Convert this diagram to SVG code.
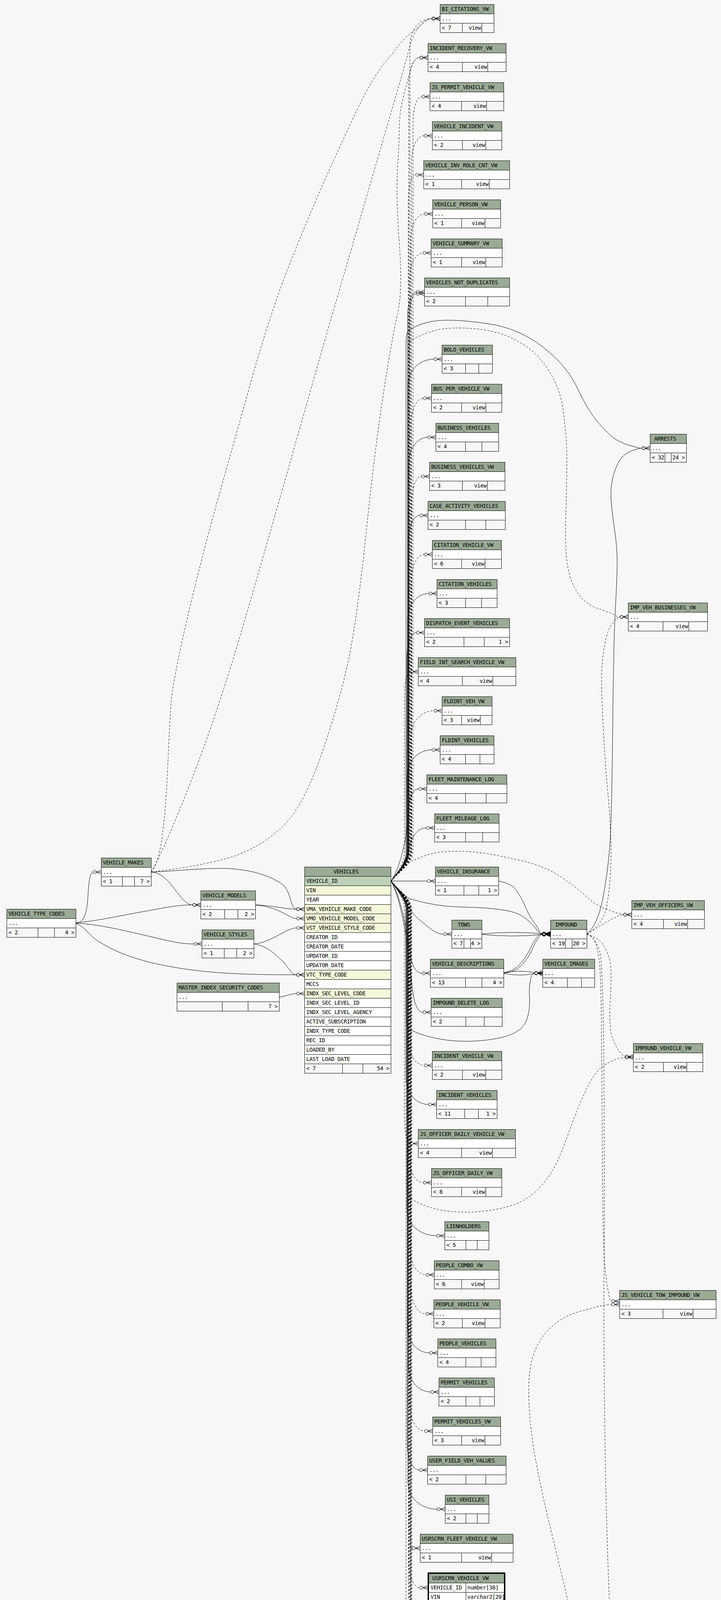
<svg xmlns="http://www.w3.org/2000/svg" width="1847" height="4927" viewBox="0 0 1847 4927">
<defs>
<style>
.hd{fill:#9bab96;stroke:#000}
.rw{fill:#fff;stroke:#000}
.pk{fill:#bed1b8;stroke:#000}
.ix{fill:#f4f7da;stroke:#000}
.ft{fill:none;stroke:#000}
.ln{fill:none;stroke:#000}
.th{fill:none;stroke:#000;stroke-width:3}
text{font-family:"DejaVu Sans Mono","Liberation Mono",monospace;font-size:14px;letter-spacing:-0.43px;fill:#000}
.r{text-anchor:end}
.e{fill:none;stroke:#000;stroke-width:1;marker-end:url(#cf)}
.d{stroke-dasharray:5,4}
</style>
<marker id="cf" markerUnits="userSpaceOnUse" markerWidth="24" markerHeight="14" viewBox="0 -7 24 14" refX="0" refY="0" orient="auto" overflow="visible">
<circle cx="4" cy="0" r="4" fill="none" stroke="#000" stroke-width="1"/>
<path d="M8,0L21,-5M8,0L21,0M8,0L21,5" fill="none" stroke="#000" stroke-width="1"/>
</marker>
</defs>
<rect x="0" y="0" width="1847" height="4927" fill="#f7f7f7"/>
<g id="connectors">
<path class="e d" d="M1002,2255.5C1015,2235 1050,2215 1050,2180L1050,117.5C1050,72.5 1078,47.5 1106.5,47.5"/>
<path class="e d" d="M1002,2255.5C1015,2235 1047,2215 1047,2180L1047,217.5C1047,172.5 1061,147.5 1075.5,147.5"/>
<path class="e d" d="M1002,2255.5C1015,2235 1058,2215 1058,2180L1058,317.5C1058,272.5 1069,247.5 1080.5,247.5"/>
<path class="e d" d="M1002,2255.5C1015,2235 1054,2215 1054,2180L1054,417.5C1054,372.5 1070,347.5 1086.5,347.5"/>
<path class="e d" d="M1002,2255.5C1015,2235 1046,2215 1046,2180L1046,517.5C1046,472.5 1055,447.5 1064.5,447.5"/>
<path class="e d" d="M1002,2255.5C1015,2235 1052,2215 1052,2180L1052,617.5C1052,572.5 1070,547.5 1087.5,547.5"/>
<path class="e d" d="M1002,2255.5C1015,2235 1049,2215 1049,2180L1049,717.5C1049,672.5 1066,647.5 1083.5,647.5"/>
<path class="e" d="M1002,2255.5C1015,2235 1044,2215 1044,2180L1044,817.5C1044,772.5 1055,747.5 1066.5,747.5"/>
<path class="e" d="M1002,2255.5C1015,2235 1048,2215 1048,2180L1048,822C1048,777 1057,752 1066.5,752"/>
<path class="e" d="M1002,2255.5C1015,2235 1045,2215 1045,2180L1045,989.5C1045,944.5 1078,919.5 1111.5,919.5"/>
<path class="e d" d="M1002,2255.5C1015,2235 1053,2215 1053,2180L1053,1089.5C1053,1044.5 1069,1019.5 1084.5,1019.5"/>
<path class="e" d="M1002,2255.5C1015,2235 1047,2215 1047,2180L1047,1189.5C1047,1144.5 1071,1119.5 1095.5,1119.5"/>
<path class="e d" d="M1002,2255.5C1015,2235 1055,2215 1055,2180L1055,1289.5C1055,1244.5 1067,1219.5 1079.5,1219.5"/>
<path class="e" d="M1002,2255.5C1015,2235 1046,2215 1046,2180L1046,1389.5C1046,1344.5 1061,1319.5 1075.5,1319.5"/>
<path class="e d" d="M1002,2255.5C1015,2235 1054,2215 1054,2180L1054,1489.5C1054,1444.5 1070,1419.5 1086.5,1419.5"/>
<path class="e" d="M1002,2255.5C1015,2235 1044,2215 1044,2180L1044,1589.5C1044,1544.5 1071,1519.5 1098.5,1519.5"/>
<path class="e" d="M1002,2255.5C1015,2235 1042,2215 1042,2180L1042,1689.5C1042,1644.5 1054,1619.5 1066.5,1619.5"/>
<path class="e d" d="M1002,2255.5C1015,2235 1036,2215 1036,2180L1036,1789.5C1036,1744.5 1043,1719.5 1050.5,1719.5"/>
<path class="e d" d="M1002,2255.5C1015,2235 1052,2215 1052,2180L1052,1889.5C1052,1844.5 1082,1819.5 1111.5,1819.5"/>
<path class="e" d="M1002,2255.5C1015,2235 1043,2215 1043,2180L1043,1989.5C1043,1944.5 1075,1919.5 1106.5,1919.5"/>
<path class="e" d="M1002,2255.5C1025,2220 1042,2150 1045,2090C1047,2045 1055,2019.5 1072.5,2019.5"/>
<path class="e" d="M1002,2255.5C1020,2235 1038,2210 1045,2180C1052,2150 1065,2119.5 1092.5,2119.5"/>
<path class="e" d="M1002,2255.5L1094.5,2255.5"/>
<path class="e" d="M1002,2255.5C1035,2300 1050,2335 1075,2355C1100,2375 1115,2391.5 1136.5,2391.5"/>
<path class="e" d="M1002,2255.5C1030,2300 1045,2400 1052,2450C1058,2478 1068,2491.5 1081.5,2491.5"/>
<path class="e" d="M1002,2255.5C1035,2320 1048,2450 1055,2520C1060,2570 1070,2591.5 1083.5,2591.5"/>
<path class="e d" d="M1002,2255.5C1015,2276 1046,2296 1046,2331L1046,2657.5C1046,2702.5 1066,2727.5 1086.5,2727.5"/>
<path class="e" d="M1002,2255.5C1015,2276 1040,2296 1040,2331L1040,2757.5C1040,2802.5 1069,2827.5 1097.5,2827.5"/>
<path class="e d" d="M1002,2255.5C1015,2276 1036,2296 1036,2331L1036,2857.5C1036,2902.5 1043,2927.5 1050.5,2927.5"/>
<path class="e d" d="M1002,2255.5C1015,2276 1048,2296 1048,2331L1048,2957.5C1048,3002.5 1066,3027.5 1084.5,3027.5"/>
<path class="e" d="M1002,2255.5C1015,2276 1042,2296 1042,2331L1042,3093.5C1042,3138.5 1080,3163.5 1118.5,3163.5"/>
<path class="e d" d="M1002,2255.5C1015,2276 1050,2296 1050,2331L1050,3193.5C1050,3238.5 1071,3263.5 1091.5,3263.5"/>
<path class="e d" d="M1002,2255.5C1015,2276 1053,2296 1053,2331L1053,3293.5C1053,3338.5 1072,3363.5 1090.5,3363.5"/>
<path class="e" d="M1002,2255.5C1015,2276 1044,2296 1044,2331L1044,3393.5C1044,3438.5 1072,3463.5 1100.5,3463.5"/>
<path class="e" d="M1002,2255.5C1015,2276 1046,2296 1046,2331L1046,3493.5C1046,3538.5 1075,3563.5 1103.5,3563.5"/>
<path class="e d" d="M1002,2255.5C1015,2276 1050,2296 1050,2331L1050,3593.5C1050,3638.5 1069,3663.5 1087.5,3663.5"/>
<path class="e" d="M1002,2255.5C1015,2276 1043,2296 1043,2331L1043,3693.5C1043,3738.5 1059,3763.5 1074.5,3763.5"/>
<path class="e" d="M1002,2255.5C1015,2276 1045,2296 1045,2331L1045,3793.5C1045,3838.5 1082,3863.5 1119.5,3863.5"/>
<path class="e d" d="M1002,2255.5C1015,2276 1049,2296 1049,2331L1049,3893.5C1049,3938.5 1052,3963.5 1055.5,3963.5"/>
<path class="e d" d="M1002,2255.5C1015,2276 1047,2296 1047,2331L1047,3994.5C1047,4039.5 1061,4064.5 1075,4064.5"/>
<path class="e d" d="M1002,2255.5C1015,2276 1048,2296 1048,2331L1048,4194.5C1048,4239.5 1061,4264.5 1074.5,4264.5"/>
<path class="e" d="M1002,2255.5C1015,2276 1052,2296 1052,2331L1052,4294.5C1052,4339.5 1067,4364.5 1082.5,4364.5"/>
<path class="e d" d="M1002,2255.5C1015,2276 1053,2296 1053,2331L1053,4394.5C1053,4439.5 1064,4464.5 1074.5,4464.5"/>
<path class="e d" d="M1002,2255.5C1015,2276 1055,2296 1055,2331L1055,4494.5C1055,4539.5 1077,4564.5 1098.5,4564.5"/>
<path class="e d" d="M1002,2255.5C1015,2276 1052,2296 1052,2331L1052,4594.5C1052,4639.5 1061,4664.5 1070.5,4664.5"/>
<path class="e d" d="M1002,2255.5C1015,2276 1040,2296 1040,2331L1040,4766.5C1040,4811.5 1043,4836.5 1046.5,4836.5"/>
<path class="e" d="M1002,2255.5C1015,2235 1040,2215 1040,2180L1040,880C1040,860 1042,848 1050,844Q1081,824 1125,820.5Q1169,817 1249,828.5Q1329,840 1391,888.5Q1453,937 1479,993.5Q1505,1050 1533.5,1083Q1562,1116 1580,1126.5Q1598,1137 1620,1142C1630,1145 1635,1147.5 1644.5,1147.5"/>
<path class="e d" d="M1002,2255.5C1015,2235 1046,2215 1046,2180L1046,900C1046,885 1048,874 1053,870.5Q1092,850.5 1123,844Q1154,837 1211,841Q1267,845 1309,864.5Q1350,884 1376,910.5Q1402,937.5 1420,974Q1438,1011 1443,1052.5Q1448,1094 1450.5,1127Q1453,1160 1451.5,1230Q1450,1300 1449,1340Q1448,1380 1450,1413Q1452,1446 1460,1475Q1469,1505 1487,1527Q1505,1549 1531,1557.5Q1557,1566 1572,1573C1578,1577 1582,1579.5 1588.5,1579.5"/>
<path class="e d" d="M1002,2255.5C1020,2240 1035,2220 1050,2207Q1100,2182 1143,2180Q1195,2177 1246,2185Q1298,2194 1350,2207Q1402,2220.5 1440,2247Q1479,2274 1505,2297.5Q1531,2321 1557,2329Q1582,2338 1590,2340C1593,2341 1595,2341.5 1597.5,2341.5"/>
<path class="e" d="M1002,2255.5C1020,2275 1035,2292 1050,2301Q1117,2321 1182,2322Q1247,2323 1285,2329Q1324,2334 1342,2348Q1360,2361 1372,2376C1378,2386 1383,2391.5 1389.5,2391.5"/>
<path class="e" d="M1002,2255.5C1015,2277 1040,2297 1040,2332L1040,2600C1040,2620 1044,2632 1050,2636Q1092,2656 1143,2662.5Q1195,2669 1247,2662.5Q1298,2656 1321,2642.5Q1345,2629 1351,2605.5Q1358,2582 1356.5,2555Q1355,2529 1358,2515C1360,2497 1364,2491.5 1369.5,2491.5"/>
<path class="e d" d="M1002,2255.5C1015,2277 1044,2297 1044,2332L1044,3040C1044,3060 1050,3068 1056,3071Q1092,3091 1130,3098Q1169,3104.5 1208,3103Q1247,3101 1285,3093Q1324,3084 1350,3067.5Q1376,3051 1401.5,3017.5Q1427,2984 1453,2910Q1479,2837 1500,2793Q1520,2750 1538.5,2734.5Q1557,2719 1575,2713C1585,2709 1592,2707.5 1601.5,2707.5"/>
<path class="e d" d="M1002,2255.5C1015,2277 1050,2297 1050,2332L1050,4707Q1071,4721 1107,4733Q1143,4744.6 1208,4740Q1272.5,4735 1306,4723Q1340,4712 1391.5,4650.5Q1443,4589.5 1463.5,4507Q1484,4425 1484,4343Q1484,4260.5 1479,4225Q1474,4190 1463.5,4139Q1453,4087.5 1412,3920Q1371,3753 1360.5,3659Q1350,3565 1357.5,3508Q1365,3451 1399,3411Q1433,3371 1490,3356C1530,3345 1550,3339.5 1566.5,3339.5"/>
<path class="e d" d="M1002,2255.5C1015,2277 1046,2297 1046,2332L1046,4700C1046,4718 1048,4726 1050,4730.5Q1066,4754 1092,4764.5Q1117.5,4775 1156,4775Q1195,4775 1234,4769Q1272.5,4763.5 1337,4747Q1401.6,4730.5 1463.6,4700Q1525.6,4669.5 1541,4653Q1556.6,4636.5 1567,4582Q1577,4528 1585,4513C1590,4504 1595,4501.5 1601.5,4501.5"/>
<path class="e" d="M1503.5,2391.5Q1531,2368 1544,2301Q1557,2234 1562,2167Q1567,2100 1569.5,1868.5Q1572,1637 1576.5,1556Q1581,1475 1581,1437.5Q1581,1400 1573.5,1350Q1566,1300 1565,1270.5Q1564,1241 1573,1211.5Q1582,1182 1595,1169Q1608,1156 1626,1151.5C1635,1148.5 1638,1147.5 1644.5,1147.5"/>
<path class="e d" d="M1503.5,2391.5Q1530,2375 1543,2352.5Q1556,2330 1561.5,2265Q1567,2200 1564.5,2138.5Q1562,2077 1556.5,2022Q1551,1967 1546,1875Q1541,1783 1541,1739Q1541,1695 1549,1651Q1557,1607 1570,1595C1577,1585 1582,1579.5 1588.5,1579.5"/>
<path class="e d" d="M1503.5,2391.5C1530,2375 1560,2355 1580,2347C1588,2343 1592,2341.5 1597.5,2341.5"/>
<path class="e d" d="M1503.5,2391.5Q1536,2401 1549,2424.5Q1562,2448 1564.5,2475Q1567,2502 1563,2569Q1559,2636 1571,2662.5Q1582,2689 1592,2697C1596,2702 1598,2704.5 1601.5,2704.5"/>
<path class="e d" d="M1503.5,2391.5Q1520,2395 1528,2421.5Q1536,2448 1538.5,2508.5Q1541,2569 1542.5,2859.5Q1544,3150 1547.5,3210Q1551,3270 1558,3305C1561,3323 1563,3331 1566.5,3331"/>
<path class="e d" d="M1503.5,2391.5Q1526,2401 1536,2434.5Q1546,2468 1547.5,2809Q1549,3150 1547.5,3250.5Q1546,3351 1548.5,3585Q1551,3820 1557.5,4005Q1564,4190 1568,4249Q1572,4307.5 1580,4354.5Q1588,4401.5 1594,4440C1597,4475 1598,4493 1601.5,4493"/>
<path class="e" d="M1277.5,2255.5Q1309,2261 1321.5,2277.5Q1334,2294 1347,2324Q1360,2354 1375.5,2371C1382,2385 1384,2389.5 1389.5,2389.5"/>
<path class="e" d="M1234.5,2391Q1310,2383 1389.5,2390.5"/>
<path class="e" d="M1234.5,2392Q1310,2400 1389.5,2392.5"/>
<path class="e" d="M1290.5,2490C1320,2485 1335,2470 1355,2435C1370,2405 1378,2391 1389.5,2391"/>
<path class="e" d="M1290.5,2491C1325,2488 1340,2472 1360,2438C1373,2410 1380,2393 1389.5,2393"/>
<path class="e" d="M1290.5,2490.5Q1330,2482 1369.5,2490"/>
<path class="e" d="M1290.5,2492Q1330,2500 1369.5,2492.5"/>
<path class="e" d="M194.5,2363.5C212,2362 222,2345 225,2300C227,2260 230,2232.5 238.5,2232.5"/>
<path class="e" d="M194.5,2362.5C260,2356 300,2345 388,2330C430,2322 460,2316.5 493.5,2316.5"/>
<path class="e" d="M194.5,2363.5C250,2366 300,2378 387,2398C430,2408 460,2416.5 496.5,2416.5"/>
<path class="e" d="M194.5,2364C220,2375 230,2395 245,2405C290,2435 330,2450 390,2465C500,2490 600,2495.5 759.5,2495.5"/>
<path class="e" d="M387.5,2232.5C410,2234 430,2250 450,2280C470,2305 480,2316.5 493.5,2316.5"/>
<path class="e" d="M387.5,2232.5C450,2230 520,2222 577,2223C650,2226 700,2245 727,2267C745,2285 745,2327.5 759.5,2327.5"/>
<path class="e" d="M654.5,2316.5C700,2318 730,2327.5 759.5,2327.5"/>
<path class="e" d="M654.5,2317C700,2320 730,2340 745,2347C750,2350 754,2351.5 759.5,2351.5"/>
<path class="e" d="M650.5,2416.5C680,2414 700,2400 727,2387C740,2380 748,2375.5 759.5,2375.5"/>
<path class="e" d="M650.5,2416.5C690,2422 710,2450 727,2463C740,2480 748,2495.5 759.5,2495.5"/>
<path class="e" d="M715.5,2552.5C735,2550 745,2543.5 759.5,2543.5"/>
<path class="e d" d="M387.5,2232.5Q407,2209 416,2137.5Q425,2066 429.5,1965.5Q434,1865 437.5,1807.5Q441,1750 477.5,1592.5Q514,1435 558.5,1277Q603,1119 647.5,961Q692.5,803 737,688.5Q782,574 826.5,473.5Q871,373 915.5,279.5Q960,186 1003,140Q1037,92 1067,74C1085,60 1095,47.5 1106.5,47.5"/>
<path class="e d" d="M387.5,2232.5Q424.6,2166 491.5,1994Q558.6,1822 625.5,1592.5Q692.5,1363 759.5,1126Q826.4,889.5 893.5,660Q960.4,430.4 998,301Q1036,172 1045,136Q1054,100 1062,86C1075,62 1090,48 1106.5,48"/>
<path class="e d" d="M387.5,2232.5Q557,2212 625,2182Q692.5,2152 737,2102Q782,2052 826.5,1922.5Q871,1793 893.5,1685.5Q915.7,1578 938,1363Q960.4,1148 982.5,1004.5Q1005,861 1018.5,803.5Q1031.8,746 1023,624Q1014,502 1018.5,430.5Q1022.8,359 1023,326Q1023,293 1031.5,256.5Q1040,220 1048.5,191.5C1055,165 1062,147.5 1075.5,147.5"/>
</g>
<g id="BI_CITATIONS_VW"><rect class="hd" x="1127.5" y="11.5" width="138" height="24"/><rect class="rw" x="1127.5" y="35.5" width="138" height="24"/><rect class="ft" x="1127.5" y="59.5" width="138" height="24"/><path class="ln" d="M1184.5,59.5v24M1234.5,59.5v24"/><text x="1131.5" y="28">BI_CITATIONS_VW</text><text x="1131.5" y="52">...</text><text x="1131.5" y="76">&lt; 7</text><text class="r" x="1232.5" y="76">view</text></g>
<g id="INCIDENT_RECOVERY_VW"><rect class="hd" x="1096.5" y="111.5" width="200" height="24"/><rect class="rw" x="1096.5" y="135.5" width="200" height="24"/><rect class="ft" x="1096.5" y="159.5" width="200" height="24"/><path class="ln" d="M1184.5,159.5v24M1249.5,159.5v24"/><text x="1100.5" y="128">INCIDENT_RECOVERY_VW</text><text x="1100.5" y="152">...</text><text x="1100.5" y="176">&lt; 4</text><text class="r" x="1247.5" y="176">view</text></g>
<g id="JS_PERMIT_VEHICLE_VW"><rect class="hd" x="1101.5" y="211.5" width="189" height="24"/><rect class="rw" x="1101.5" y="235.5" width="189" height="24"/><rect class="ft" x="1101.5" y="259.5" width="189" height="24"/><path class="ln" d="M1182.5,259.5v24M1246.5,259.5v24"/><text x="1105.5" y="228">JS_PERMIT_VEHICLE_VW</text><text x="1105.5" y="252">...</text><text x="1105.5" y="276">&lt; 4</text><text class="r" x="1244.5" y="276">view</text></g>
<g id="VEHICLE_INCIDENT_VW"><rect class="hd" x="1107.5" y="311.5" width="178" height="24"/><rect class="rw" x="1107.5" y="335.5" width="178" height="24"/><rect class="ft" x="1107.5" y="359.5" width="178" height="24"/><path class="ln" d="M1184.5,359.5v24M1244.5,359.5v24"/><text x="1111.5" y="328">VEHICLE_INCIDENT_VW</text><text x="1111.5" y="352">...</text><text x="1111.5" y="376">&lt; 2</text><text class="r" x="1242.5" y="376">view</text></g>
<g id="VEHICLE_INV_ROLE_CNT_VW"><rect class="hd" x="1085.5" y="411.5" width="220" height="24"/><rect class="rw" x="1085.5" y="435.5" width="220" height="24"/><rect class="ft" x="1085.5" y="459.5" width="220" height="24"/><path class="ln" d="M1182.5,459.5v24M1253.5,459.5v24"/><text x="1089.5" y="428">VEHICLE_INV_ROLE_CNT_VW</text><text x="1089.5" y="452">...</text><text x="1089.5" y="476">&lt; 1</text><text class="r" x="1251.5" y="476">view</text></g>
<g id="VEHICLE_PERSON_VW"><rect class="hd" x="1108.5" y="511.5" width="174" height="24"/><rect class="rw" x="1108.5" y="535.5" width="174" height="24"/><rect class="ft" x="1108.5" y="559.5" width="174" height="24"/><path class="ln" d="M1182.5,559.5v24M1242.5,559.5v24"/><text x="1112.5" y="528">VEHICLE_PERSON_VW</text><text x="1112.5" y="552">...</text><text x="1112.5" y="576">&lt; 1</text><text class="r" x="1240.5" y="576">view</text></g>
<g id="VEHICLE_SUMMARY_VW"><rect class="hd" x="1104.5" y="611.5" width="182" height="24"/><rect class="rw" x="1104.5" y="635.5" width="182" height="24"/><rect class="ft" x="1104.5" y="659.5" width="182" height="24"/><path class="ln" d="M1182.5,659.5v24M1244.5,659.5v24"/><text x="1108.5" y="628">VEHICLE_SUMMARY_VW</text><text x="1108.5" y="652">...</text><text x="1108.5" y="676">&lt; 1</text><text class="r" x="1242.5" y="676">view</text></g>
<g id="VEHICLES_NOT_DUPLICATES"><rect class="hd" x="1087.5" y="711.5" width="218" height="24"/><rect class="rw" x="1087.5" y="735.5" width="218" height="24"/><rect class="ft" x="1087.5" y="759.5" width="218" height="24"/><path class="ln" d="M1192.5,759.5v24M1249.5,759.5v24"/><text x="1091.5" y="728">VEHICLES_NOT_DUPLICATES</text><text x="1091.5" y="752">...</text><text x="1091.5" y="776">&lt; 2</text></g>
<g id="BOLO_VEHICLES"><rect class="hd" x="1132.5" y="883.5" width="129" height="24"/><rect class="rw" x="1132.5" y="907.5" width="129" height="24"/><rect class="ft" x="1132.5" y="931.5" width="129" height="24"/><path class="ln" d="M1192.5,931.5v24M1226.5,931.5v24"/><text x="1136.5" y="900">BOLO_VEHICLES</text><text x="1136.5" y="924">...</text><text x="1136.5" y="948">&lt; 3</text></g>
<g id="BUS_PER_VEHICLE_VW"><rect class="hd" x="1105.5" y="983.5" width="180" height="24"/><rect class="rw" x="1105.5" y="1007.5" width="180" height="24"/><rect class="ft" x="1105.5" y="1031.5" width="180" height="24"/><path class="ln" d="M1182.5,1031.5v24M1244.5,1031.5v24"/><text x="1109.5" y="1000">BUS_PER_VEHICLE_VW</text><text x="1109.5" y="1024">...</text><text x="1109.5" y="1048">&lt; 2</text><text class="r" x="1242.5" y="1048">view</text></g>
<g id="BUSINESS_VEHICLES"><rect class="hd" x="1116.5" y="1083.5" width="161" height="24"/><rect class="rw" x="1116.5" y="1107.5" width="161" height="24"/><rect class="ft" x="1116.5" y="1131.5" width="161" height="24"/><path class="ln" d="M1192.5,1131.5v24M1234.5,1131.5v24"/><text x="1120.5" y="1100">BUSINESS_VEHICLES</text><text x="1120.5" y="1124">...</text><text x="1120.5" y="1148">&lt; 4</text></g>
<g id="BUSINESS_VEHICLES_VW"><rect class="hd" x="1100.5" y="1183.5" width="193" height="24"/><rect class="rw" x="1100.5" y="1207.5" width="193" height="24"/><rect class="ft" x="1100.5" y="1231.5" width="193" height="24"/><path class="ln" d="M1184.5,1231.5v24M1248.5,1231.5v24"/><text x="1104.5" y="1200">BUSINESS_VEHICLES_VW</text><text x="1104.5" y="1224">...</text><text x="1104.5" y="1248">&lt; 3</text><text class="r" x="1246.5" y="1248">view</text></g>
<g id="CASE_ACTIVITY_VEHICLES"><rect class="hd" x="1096.5" y="1283.5" width="198" height="24"/><rect class="rw" x="1096.5" y="1307.5" width="198" height="24"/><rect class="ft" x="1096.5" y="1331.5" width="198" height="24"/><path class="ln" d="M1192.5,1331.5v24M1244.5,1331.5v24"/><text x="1100.5" y="1300">CASE_ACTIVITY_VEHICLES</text><text x="1100.5" y="1324">...</text><text x="1100.5" y="1348">&lt; 2</text></g>
<g id="CITATION_VEHICLE_VW"><rect class="hd" x="1107.5" y="1383.5" width="177" height="24"/><rect class="rw" x="1107.5" y="1407.5" width="177" height="24"/><rect class="ft" x="1107.5" y="1431.5" width="177" height="24"/><path class="ln" d="M1182.5,1431.5v24M1242.5,1431.5v24"/><text x="1111.5" y="1400">CITATION_VEHICLE_VW</text><text x="1111.5" y="1424">...</text><text x="1111.5" y="1448">&lt; 6</text><text class="r" x="1240.5" y="1448">view</text></g>
<g id="CITATION_VEHICLES"><rect class="hd" x="1119.5" y="1483.5" width="154" height="24"/><rect class="rw" x="1119.5" y="1507.5" width="154" height="24"/><rect class="ft" x="1119.5" y="1531.5" width="154" height="24"/><path class="ln" d="M1192.5,1531.5v24M1233.5,1531.5v24"/><text x="1123.5" y="1500">CITATION_VEHICLES</text><text x="1123.5" y="1524">...</text><text x="1123.5" y="1548">&lt; 3</text></g>
<g id="DISPATCH_EVENT_VEHICLES"><rect class="hd" x="1087.5" y="1583.5" width="218" height="24"/><rect class="rw" x="1087.5" y="1607.5" width="218" height="24"/><rect class="ft" x="1087.5" y="1631.5" width="218" height="24"/><path class="ln" d="M1188.5,1631.5v24M1240.5,1631.5v24"/><text x="1091.5" y="1600">DISPATCH_EVENT_VEHICLES</text><text x="1091.5" y="1624">...</text><text x="1091.5" y="1648">&lt; 2</text><text class="r" x="1301.5" y="1648">1 &gt;</text></g>
<g id="FIELD_INT_SEARCH_VEHICLE_VW"><rect class="hd" x="1071.5" y="1683.5" width="250" height="24"/><rect class="rw" x="1071.5" y="1707.5" width="250" height="24"/><rect class="ft" x="1071.5" y="1731.5" width="250" height="24"/><path class="ln" d="M1184.5,1731.5v24M1262.5,1731.5v24"/><text x="1075.5" y="1700">FIELD_INT_SEARCH_VEHICLE_VW</text><text x="1075.5" y="1724">...</text><text x="1075.5" y="1748">&lt; 4</text><text class="r" x="1260.5" y="1748">view</text></g>
<g id="FLDINT_VEH_VW"><rect class="hd" x="1132.5" y="1783.5" width="128" height="24"/><rect class="rw" x="1132.5" y="1807.5" width="128" height="24"/><rect class="ft" x="1132.5" y="1831.5" width="128" height="24"/><path class="ln" d="M1182.5,1831.5v24M1230.5,1831.5v24"/><text x="1136.5" y="1800">FLDINT_VEH_VW</text><text x="1136.5" y="1824">...</text><text x="1136.5" y="1848">&lt; 3</text><text class="r" x="1228.5" y="1848">view</text></g>
<g id="FLDINT_VEHICLES"><rect class="hd" x="1127.5" y="1883.5" width="138" height="24"/><rect class="rw" x="1127.5" y="1907.5" width="138" height="24"/><rect class="ft" x="1127.5" y="1931.5" width="138" height="24"/><path class="ln" d="M1192.5,1931.5v24M1229.5,1931.5v24"/><text x="1131.5" y="1900">FLDINT_VEHICLES</text><text x="1131.5" y="1924">...</text><text x="1131.5" y="1948">&lt; 4</text></g>
<g id="FLEET_MAINTENANCE_LOG"><rect class="hd" x="1093.5" y="1983.5" width="205" height="24"/><rect class="rw" x="1093.5" y="2007.5" width="205" height="24"/><rect class="ft" x="1093.5" y="2031.5" width="205" height="24"/><path class="ln" d="M1192.5,2031.5v24M1245.5,2031.5v24"/><text x="1097.5" y="2000">FLEET_MAINTENANCE_LOG</text><text x="1097.5" y="2024">...</text><text x="1097.5" y="2048">&lt; 4</text></g>
<g id="FLEET_MILEAGE_LOG"><rect class="hd" x="1113.5" y="2083.5" width="165" height="24"/><rect class="rw" x="1113.5" y="2107.5" width="165" height="24"/><rect class="ft" x="1113.5" y="2131.5" width="165" height="24"/><path class="ln" d="M1192.5,2131.5v24M1236.5,2131.5v24"/><text x="1117.5" y="2100">FLEET_MILEAGE_LOG</text><text x="1117.5" y="2124">...</text><text x="1117.5" y="2148">&lt; 3</text></g>
<g id="VEHICLE_INSURANCE"><rect class="hd" x="1115.5" y="2219.5" width="162" height="24"/><rect class="rw" x="1115.5" y="2243.5" width="162" height="24"/><rect class="ft" x="1115.5" y="2267.5" width="162" height="24"/><path class="ln" d="M1188.5,2267.5v24M1226.5,2267.5v24"/><text x="1119.5" y="2236">VEHICLE_INSURANCE</text><text x="1119.5" y="2260">...</text><text x="1119.5" y="2284">&lt; 1</text><text class="r" x="1273.5" y="2284">1 &gt;</text></g>
<g id="TOWS"><rect class="hd" x="1157.5" y="2355.5" width="77" height="24"/><rect class="rw" x="1157.5" y="2379.5" width="77" height="24"/><rect class="ft" x="1157.5" y="2403.5" width="77" height="24"/><path class="ln" d="M1188.5,2403.5v24M1205.5,2403.5v24"/><text x="1172.5" y="2372">TOWS</text><text x="1161.5" y="2396">...</text><text x="1161.5" y="2420">&lt; 7</text><text class="r" x="1230.5" y="2420">4 &gt;</text></g>
<g id="VEHICLE_DESCRIPTIONS"><rect class="hd" x="1102.5" y="2455.5" width="188" height="24"/><rect class="rw" x="1102.5" y="2479.5" width="188" height="24"/><rect class="ft" x="1102.5" y="2503.5" width="188" height="24"/><path class="ln" d="M1192.5,2503.5v24M1234.5,2503.5v24"/><text x="1106.5" y="2472">VEHICLE_DESCRIPTIONS</text><text x="1106.5" y="2496">...</text><text x="1106.5" y="2520">&lt; 13</text><text class="r" x="1286.5" y="2520">4 &gt;</text></g>
<g id="IMPOUND_DELETE_LOG"><rect class="hd" x="1104.5" y="2555.5" width="182" height="24"/><rect class="rw" x="1104.5" y="2579.5" width="182" height="24"/><rect class="ft" x="1104.5" y="2603.5" width="182" height="24"/><path class="ln" d="M1193.5,2603.5v24M1240.5,2603.5v24"/><text x="1108.5" y="2572">IMPOUND_DELETE_LOG</text><text x="1108.5" y="2596">...</text><text x="1108.5" y="2620">&lt; 2</text></g>
<g id="INCIDENT_VEHICLE_VW"><rect class="hd" x="1107.5" y="2691.5" width="178" height="24"/><rect class="rw" x="1107.5" y="2715.5" width="178" height="24"/><rect class="ft" x="1107.5" y="2739.5" width="178" height="24"/><path class="ln" d="M1184.5,2739.5v24M1244.5,2739.5v24"/><text x="1111.5" y="2708">INCIDENT_VEHICLE_VW</text><text x="1111.5" y="2732">...</text><text x="1111.5" y="2756">&lt; 2</text><text class="r" x="1242.5" y="2756">view</text></g>
<g id="INCIDENT_VEHICLES"><rect class="hd" x="1118.5" y="2791.5" width="155" height="24"/><rect class="rw" x="1118.5" y="2815.5" width="155" height="24"/><rect class="ft" x="1118.5" y="2839.5" width="155" height="24"/><path class="ln" d="M1190.5,2839.5v24M1225.5,2839.5v24"/><text x="1122.5" y="2808">INCIDENT_VEHICLES</text><text x="1122.5" y="2832">...</text><text x="1122.5" y="2856">&lt; 11</text><text class="r" x="1269.5" y="2856">1 &gt;</text></g>
<g id="JS_OFFICER_DAILY_VEHICLE_VW"><rect class="hd" x="1071.5" y="2891.5" width="249" height="24"/><rect class="rw" x="1071.5" y="2915.5" width="249" height="24"/><rect class="ft" x="1071.5" y="2939.5" width="249" height="24"/><path class="ln" d="M1182.5,2939.5v24M1261.5,2939.5v24"/><text x="1075.5" y="2908">JS_OFFICER_DAILY_VEHICLE_VW</text><text x="1075.5" y="2932">...</text><text x="1075.5" y="2956">&lt; 4</text><text class="r" x="1259.5" y="2956">view</text></g>
<g id="JS_OFFICER_DAILY_VW"><rect class="hd" x="1105.5" y="2991.5" width="180" height="24"/><rect class="rw" x="1105.5" y="3015.5" width="180" height="24"/><rect class="ft" x="1105.5" y="3039.5" width="180" height="24"/><path class="ln" d="M1182.5,3039.5v24M1244.5,3039.5v24"/><text x="1109.5" y="3008">JS_OFFICER_DAILY_VW</text><text x="1109.5" y="3032">...</text><text x="1109.5" y="3056">&lt; 8</text><text class="r" x="1242.5" y="3056">view</text></g>
<g id="LIENHOLDERS"><rect class="hd" x="1139.5" y="3127.5" width="113" height="24"/><rect class="rw" x="1139.5" y="3151.5" width="113" height="24"/><rect class="ft" x="1139.5" y="3175.5" width="113" height="24"/><path class="ln" d="M1193.5,3175.5v24M1222.5,3175.5v24"/><text x="1143.5" y="3144">LIENHOLDERS</text><text x="1143.5" y="3168">...</text><text x="1143.5" y="3192">&lt; 5</text></g>
<g id="PEOPLE_COMBO_VW"><rect class="hd" x="1112.5" y="3227.5" width="166" height="24"/><rect class="rw" x="1112.5" y="3251.5" width="166" height="24"/><rect class="ft" x="1112.5" y="3275.5" width="166" height="24"/><path class="ln" d="M1182.5,3275.5v24M1240.5,3275.5v24"/><text x="1116.5" y="3244">PEOPLE_COMBO_VW</text><text x="1116.5" y="3268">...</text><text x="1116.5" y="3292">&lt; 6</text><text class="r" x="1238.5" y="3292">view</text></g>
<g id="PEOPLE_VEHICLE_VW"><rect class="hd" x="1111.5" y="3327.5" width="170" height="24"/><rect class="rw" x="1111.5" y="3351.5" width="170" height="24"/><rect class="ft" x="1111.5" y="3375.5" width="170" height="24"/><path class="ln" d="M1184.5,3375.5v24M1242.5,3375.5v24"/><text x="1115.5" y="3344">PEOPLE_VEHICLE_VW</text><text x="1115.5" y="3368">...</text><text x="1115.5" y="3392">&lt; 2</text><text class="r" x="1240.5" y="3392">view</text></g>
<g id="PEOPLE_VEHICLES"><rect class="hd" x="1121.5" y="3427.5" width="149" height="24"/><rect class="rw" x="1121.5" y="3451.5" width="149" height="24"/><rect class="ft" x="1121.5" y="3475.5" width="149" height="24"/><path class="ln" d="M1193.5,3475.5v24M1232.5,3475.5v24"/><text x="1125.5" y="3444">PEOPLE_VEHICLES</text><text x="1125.5" y="3468">...</text><text x="1125.5" y="3492">&lt; 4</text></g>
<g id="PERMIT_VEHICLES"><rect class="hd" x="1124.5" y="3527.5" width="142" height="24"/><rect class="rw" x="1124.5" y="3551.5" width="142" height="24"/><rect class="ft" x="1124.5" y="3575.5" width="142" height="24"/><path class="ln" d="M1193.5,3575.5v24M1229.5,3575.5v24"/><text x="1128.5" y="3544">PERMIT_VEHICLES</text><text x="1128.5" y="3568">...</text><text x="1128.5" y="3592">&lt; 2</text></g>
<g id="PERMIT_VEHICLES_VW"><rect class="hd" x="1108.5" y="3627.5" width="174" height="24"/><rect class="rw" x="1108.5" y="3651.5" width="174" height="24"/><rect class="ft" x="1108.5" y="3675.5" width="174" height="24"/><path class="ln" d="M1182.5,3675.5v24M1242.5,3675.5v24"/><text x="1112.5" y="3644">PERMIT_VEHICLES_VW</text><text x="1112.5" y="3668">...</text><text x="1112.5" y="3692">&lt; 3</text><text class="r" x="1240.5" y="3692">view</text></g>
<g id="USER_FIELD_VEH_VALUES"><rect class="hd" x="1095.5" y="3727.5" width="201" height="24"/><rect class="rw" x="1095.5" y="3751.5" width="201" height="24"/><rect class="ft" x="1095.5" y="3775.5" width="201" height="24"/><path class="ln" d="M1193.5,3775.5v24M1244.5,3775.5v24"/><text x="1099.5" y="3744">USER_FIELD_VEH_VALUES</text><text x="1099.5" y="3768">...</text><text x="1099.5" y="3792">&lt; 2</text></g>
<g id="USI_VEHICLES"><rect class="hd" x="1140.5" y="3827.5" width="112" height="24"/><rect class="rw" x="1140.5" y="3851.5" width="112" height="24"/><rect class="ft" x="1140.5" y="3875.5" width="112" height="24"/><path class="ln" d="M1193.5,3875.5v24M1222.5,3875.5v24"/><text x="1144.5" y="3844">USI_VEHICLES</text><text x="1144.5" y="3868">...</text><text x="1144.5" y="3892">&lt; 2</text></g>
<g id="USRSCRN_FLEET_VEHICLE_VW"><rect class="hd" x="1076.5" y="3927.5" width="238" height="24"/><rect class="rw" x="1076.5" y="3951.5" width="238" height="24"/><rect class="ft" x="1076.5" y="3975.5" width="238" height="24"/><path class="ln" d="M1182.5,3975.5v24M1259.5,3975.5v24"/><text x="1080.5" y="3944">USRSCRN_FLEET_VEHICLE_VW</text><text x="1080.5" y="3968">...</text><text x="1080.5" y="3992">&lt; 1</text><text class="r" x="1257.5" y="3992">view</text></g>
<g id="USRSCRN_VEHICLE_VW"><rect class="hd" x="1098.5" y="4028.5" width="193" height="24"/><rect class="rw" x="1098.5" y="4052.5" width="193" height="24"/><rect class="rw" x="1098.5" y="4076.5" width="193" height="24"/><rect class="rw" x="1098.5" y="4100.5" width="193" height="24"/><rect class="rw" x="1098.5" y="4124.5" width="193" height="24"/><rect class="rw" x="1098.5" y="4148.5" width="193" height="24"/><rect class="ft" x="1098.5" y="4172.5" width="193" height="24"/><path class="ln" d="M1193.5,4052.5v144M1141.5,4172.5v24"/><rect class="th" x="1097" y="4027" width="196" height="171"/><text x="1107.5" y="4045">USRSCRN_VEHICLE_VW</text><text x="1103" y="4069">VEHICLE_ID</text><text x="1197" y="4069">number[38]</text><text x="1103" y="4093">VIN</text><text x="1197" y="4093">varchar2[20]</text><text x="1103" y="4117">YEAR</text><text x="1197" y="4117">number[38]</text><text x="1103" y="4141">MAKE</text><text x="1197" y="4141">varchar2[255]</text><text x="1103" y="4165">MODEL</text><text x="1197" y="4165">varchar2[255]</text><text x="1103" y="4189">&lt; 1</text><text class="r" x="1191" y="4189">view</text><text class="r" x="1288" y="4189">0 &gt;</text></g>
<g id="VEHICLE_ASSOC_CNT_VW"><rect class="hd" x="1095.5" y="4228.5" width="201" height="24"/><rect class="rw" x="1095.5" y="4252.5" width="201" height="24"/><rect class="ft" x="1095.5" y="4276.5" width="201" height="24"/><path class="ln" d="M1182.5,4276.5v24M1249.5,4276.5v24"/><text x="1099.5" y="4245">VEHICLE_ASSOC_CNT_VW</text><text x="1099.5" y="4269">...</text><text x="1099.5" y="4293">&lt; 1</text><text class="r" x="1247.5" y="4293">view</text></g>
<g id="VEHICLE_ATTACHMENTS"><rect class="hd" x="1103.5" y="4328.5" width="186" height="24"/><rect class="rw" x="1103.5" y="4352.5" width="186" height="24"/><rect class="ft" x="1103.5" y="4376.5" width="186" height="24"/><path class="ln" d="M1193.5,4376.5v24M1241.5,4376.5v24"/><text x="1107.5" y="4345">VEHICLE_ATTACHMENTS</text><text x="1107.5" y="4369">...</text><text x="1107.5" y="4393">&lt; 2</text></g>
<g id="VEHICLE_DESC_NAME_VW"><rect class="hd" x="1095.5" y="4428.5" width="201" height="24"/><rect class="rw" x="1095.5" y="4452.5" width="201" height="24"/><rect class="ft" x="1095.5" y="4476.5" width="201" height="24"/><path class="ln" d="M1182.5,4476.5v24M1249.5,4476.5v24"/><text x="1099.5" y="4445">VEHICLE_DESC_NAME_VW</text><text x="1099.5" y="4469">...</text><text x="1099.5" y="4493">&lt; 1</text><text class="r" x="1247.5" y="4493">view</text></g>
<g id="VEHICLE_DESC_VW"><rect class="hd" x="1119.5" y="4528.5" width="153" height="24"/><rect class="rw" x="1119.5" y="4552.5" width="153" height="24"/><rect class="ft" x="1119.5" y="4576.5" width="153" height="24"/><path class="ln" d="M1182.5,4576.5v24M1237.5,4576.5v24"/><text x="1123.5" y="4545">VEHICLE_DESC_VW</text><text x="1123.5" y="4569">...</text><text x="1123.5" y="4593">&lt; 1</text><text class="r" x="1235.5" y="4593">view</text></g>
<g id="VEHICLE_DUP_SEARCH_VW"><rect class="hd" x="1091.5" y="4628.5" width="210" height="24"/><rect class="rw" x="1091.5" y="4652.5" width="210" height="24"/><rect class="ft" x="1091.5" y="4676.5" width="210" height="24"/><path class="ln" d="M1184.5,4676.5v24M1252.5,4676.5v24"/><text x="1095.5" y="4645">VEHICLE_DUP_SEARCH_VW</text><text x="1095.5" y="4669">...</text><text x="1095.5" y="4693">&lt; 1</text><text class="r" x="1250.5" y="4693">view</text></g>
<g id="VEHICLE_INCIDENT_SUMMARY_VW"><rect class="hd" x="1067.5" y="4800.5" width="257" height="24"/><rect class="rw" x="1067.5" y="4824.5" width="257" height="24"/><rect class="ft" x="1067.5" y="4848.5" width="257" height="24"/><path class="ln" d="M1182.5,4848.5v24M1262.5,4848.5v24"/><text x="1071.5" y="4817">VEHICLE_INCIDENT_SUMMARY_VW</text><text x="1071.5" y="4841">...</text><text x="1071.5" y="4865">&lt; 1</text><text class="r" x="1260.5" y="4865">view</text></g>
<g id="ARRESTS"><rect class="hd" x="1665.5" y="1111.5" width="93" height="24"/><rect class="rw" x="1665.5" y="1135.5" width="93" height="24"/><rect class="ft" x="1665.5" y="1159.5" width="93" height="24"/><path class="ln" d="M1703.5,1159.5v24M1719.5,1159.5v24"/><text x="1676" y="1128">ARRESTS</text><text x="1669.5" y="1152">...</text><text x="1669.5" y="1176">&lt; 32</text><text class="r" x="1754.5" y="1176">24 &gt;</text></g>
<g id="IMP_VEH_BUSINESSES_VW"><rect class="hd" x="1609.5" y="1543.5" width="203" height="24"/><rect class="rw" x="1609.5" y="1567.5" width="203" height="24"/><rect class="ft" x="1609.5" y="1591.5" width="203" height="24"/><path class="ln" d="M1698.5,1591.5v24M1764.5,1591.5v24"/><text x="1613.5" y="1560">IMP_VEH_BUSINESSES_VW</text><text x="1613.5" y="1584">...</text><text x="1613.5" y="1608">&lt; 4</text><text class="r" x="1762.5" y="1608">view</text></g>
<g id="IMP_VEH_OFFICERS_VW"><rect class="hd" x="1618.5" y="2305.5" width="186" height="24"/><rect class="rw" x="1618.5" y="2329.5" width="186" height="24"/><rect class="ft" x="1618.5" y="2353.5" width="186" height="24"/><path class="ln" d="M1699.5,2353.5v24M1761.5,2353.5v24"/><text x="1622.5" y="2322">IMP_VEH_OFFICERS_VW</text><text x="1622.5" y="2346">...</text><text x="1622.5" y="2370">&lt; 4</text><text class="r" x="1759.5" y="2370">view</text></g>
<g id="IMPOUND_VEHICLE_VW"><rect class="hd" x="1622.5" y="2671.5" width="178" height="24"/><rect class="rw" x="1622.5" y="2695.5" width="178" height="24"/><rect class="ft" x="1622.5" y="2719.5" width="178" height="24"/><path class="ln" d="M1699.5,2719.5v24M1759.5,2719.5v24"/><text x="1626.5" y="2688">IMPOUND_VEHICLE_VW</text><text x="1626.5" y="2712">...</text><text x="1626.5" y="2736">&lt; 2</text><text class="r" x="1757.5" y="2736">view</text></g>
<g id="JS_VEHICLE_TOW_IMPOUND_VW"><rect class="hd" x="1587.5" y="3303.5" width="247" height="24"/><rect class="rw" x="1587.5" y="3327.5" width="247" height="24"/><rect class="ft" x="1587.5" y="3351.5" width="247" height="24"/><path class="ln" d="M1698.5,3351.5v24M1775.5,3351.5v24"/><text x="1591.5" y="3320">JS_VEHICLE_TOW_IMPOUND_VW</text><text x="1591.5" y="3344">...</text><text x="1591.5" y="3368">&lt; 3</text><text class="r" x="1773.5" y="3368">view</text></g>
<g id="VEHICLE_IMPOUND_VW"><rect class="hd" x="1622.5" y="4465.5" width="178" height="24"/><rect class="rw" x="1622.5" y="4489.5" width="178" height="24"/><rect class="ft" x="1622.5" y="4513.5" width="178" height="24"/><path class="ln" d="M1699.5,4513.5v24M1759.5,4513.5v24"/><text x="1626.5" y="4482">VEHICLE_IMPOUND_VW</text><text x="1626.5" y="4506">...</text><text x="1626.5" y="4530">&lt; 2</text><text class="r" x="1757.5" y="4530">view</text></g>
<g id="IMPOUND"><rect class="hd" x="1410.5" y="2355.5" width="93" height="24"/><rect class="rw" x="1410.5" y="2379.5" width="93" height="24"/><rect class="ft" x="1410.5" y="2403.5" width="93" height="24"/><path class="ln" d="M1448.5,2403.5v24M1465.5,2403.5v24"/><text x="1422" y="2372">IMPOUND</text><text x="1414.5" y="2396">...</text><text x="1414.5" y="2420">&lt; 19</text><text class="r" x="1499.5" y="2420">20 &gt;</text></g>
<g id="VEHICLE_IMAGES"><rect class="hd" x="1390.5" y="2455.5" width="133" height="24"/><rect class="rw" x="1390.5" y="2479.5" width="133" height="24"/><rect class="ft" x="1390.5" y="2503.5" width="133" height="24"/><path class="ln" d="M1453.5,2503.5v24M1489.5,2503.5v24"/><text x="1394.5" y="2472">VEHICLE_IMAGES</text><text x="1394.5" y="2496">...</text><text x="1394.5" y="2520">&lt; 4</text></g>
<g id="VEHICLE_TYPE_CODES"><rect class="hd" x="17.5" y="2327.5" width="177" height="24"/><rect class="rw" x="17.5" y="2351.5" width="177" height="24"/><rect class="ft" x="17.5" y="2375.5" width="177" height="24"/><path class="ln" d="M97.5,2375.5v24M139.5,2375.5v24"/><text x="21.5" y="2344">VEHICLE_TYPE_CODES</text><text x="21.5" y="2368">...</text><text x="21.5" y="2392">&lt; 2</text><text class="r" x="190.5" y="2392">4 &gt;</text></g>
<g id="VEHICLE_MAKES"><rect class="hd" x="259.5" y="2196.5" width="128" height="24"/><rect class="rw" x="259.5" y="2220.5" width="128" height="24"/><rect class="ft" x="259.5" y="2244.5" width="128" height="24"/><path class="ln" d="M313.5,2244.5v24M344.5,2244.5v24"/><text x="263.5" y="2213">VEHICLE_MAKES</text><text x="263.5" y="2237">...</text><text x="263.5" y="2261">&lt; 1</text><text class="r" x="383.5" y="2261">7 &gt;</text></g>
<g id="VEHICLE_MODELS"><rect class="hd" x="514.5" y="2280.5" width="140" height="24"/><rect class="rw" x="514.5" y="2304.5" width="140" height="24"/><rect class="ft" x="514.5" y="2328.5" width="140" height="24"/><path class="ln" d="M575.5,2328.5v24M609.5,2328.5v24"/><text x="518.5" y="2297">VEHICLE_MODELS</text><text x="518.5" y="2321">...</text><text x="518.5" y="2345">&lt; 2</text><text class="r" x="650.5" y="2345">2 &gt;</text></g>
<g id="VEHICLE_STYLES"><rect class="hd" x="517.5" y="2380.5" width="133" height="24"/><rect class="rw" x="517.5" y="2404.5" width="133" height="24"/><rect class="ft" x="517.5" y="2428.5" width="133" height="24"/><path class="ln" d="M574.5,2428.5v24M606.5,2428.5v24"/><text x="521.5" y="2397">VEHICLE_STYLES</text><text x="521.5" y="2421">...</text><text x="521.5" y="2445">&lt; 1</text><text class="r" x="646.5" y="2445">2 &gt;</text></g>
<g id="MASTER_INDEX_SECURITY_CODES"><rect class="hd" x="453.5" y="2516.5" width="262" height="24"/><rect class="rw" x="453.5" y="2540.5" width="262" height="24"/><rect class="ft" x="453.5" y="2564.5" width="262" height="24"/><path class="ln" d="M569.5,2564.5v24M635.5,2564.5v24"/><text x="457.5" y="2533">MASTER_INDEX_SECURITY_CODES</text><text x="457.5" y="2557">...</text><text class="r" x="711.5" y="2581">7 &gt;</text></g>
<g id="VEHICLES"><rect class="hd" x="780.5" y="2219.5" width="221" height="24"/>
<rect class="pk" x="780.5" y="2243.5" width="221" height="24"/>
<rect class="ix" x="780.5" y="2267.5" width="221" height="24"/>
<rect class="rw" x="780.5" y="2291.5" width="221" height="24"/>
<rect class="ix" x="780.5" y="2315.5" width="221" height="24"/>
<rect class="ix" x="780.5" y="2339.5" width="221" height="24"/>
<rect class="ix" x="780.5" y="2363.5" width="221" height="24"/>
<rect class="rw" x="780.5" y="2387.5" width="221" height="24"/>
<rect class="rw" x="780.5" y="2411.5" width="221" height="24"/>
<rect class="rw" x="780.5" y="2435.5" width="221" height="24"/>
<rect class="rw" x="780.5" y="2459.5" width="221" height="24"/>
<rect class="ix" x="780.5" y="2483.5" width="221" height="24"/>
<rect class="rw" x="780.5" y="2507.5" width="221" height="24"/>
<rect class="ix" x="780.5" y="2531.5" width="221" height="24"/>
<rect class="rw" x="780.5" y="2555.5" width="221" height="24"/>
<rect class="rw" x="780.5" y="2579.5" width="221" height="24"/>
<rect class="rw" x="780.5" y="2603.5" width="221" height="24"/>
<rect class="rw" x="780.5" y="2627.5" width="221" height="24"/>
<rect class="rw" x="780.5" y="2651.5" width="221" height="24"/>
<rect class="rw" x="780.5" y="2675.5" width="221" height="24"/>
<rect class="rw" x="780.5" y="2699.5" width="221" height="24"/>
<rect class="ft" x="780.5" y="2723.5" width="221" height="24"/>
<path class="ln" d="M877.5,2723.5v24M929.5,2723.5v24"/>
<text x="854.5" y="2236">VEHICLES</text>
<text x="784.5" y="2260">VEHICLE_ID</text>
<text x="784.5" y="2284">VIN</text>
<text x="784.5" y="2308">YEAR</text>
<text x="784.5" y="2332">VMA_VEHICLE_MAKE_CODE</text>
<text x="784.5" y="2356">VMO_VEHICLE_MODEL_CODE</text>
<text x="784.5" y="2380">VST_VEHICLE_STYLE_CODE</text>
<text x="784.5" y="2404">CREATOR_ID</text>
<text x="784.5" y="2428">CREATOR_DATE</text>
<text x="784.5" y="2452">UPDATOR_ID</text>
<text x="784.5" y="2476">UPDATOR_DATE</text>
<text x="784.5" y="2500">VTC_TYPE_CODE</text>
<text x="784.5" y="2524">MCCS</text>
<text x="784.5" y="2548">INDX_SEC_LEVEL_CODE</text>
<text x="784.5" y="2572">INDX_SEC_LEVEL_ID</text>
<text x="784.5" y="2596">INDX_SEC_LEVEL_AGENCY</text>
<text x="784.5" y="2620">ACTIVE_SUBSCRIPTION</text>
<text x="784.5" y="2644">INDX_TYPE_CODE</text>
<text x="784.5" y="2668">REC_ID</text>
<text x="784.5" y="2692">LOADED_BY</text>
<text x="784.5" y="2716">LAST_LOAD_DATE</text>
<text x="784.5" y="2740">&lt; 7</text>
<text class="r" x="997.5" y="2740">54 &gt;</text>
</g>
<text x="16" y="4913">Generated by SchemaSpy</text>
</svg>
